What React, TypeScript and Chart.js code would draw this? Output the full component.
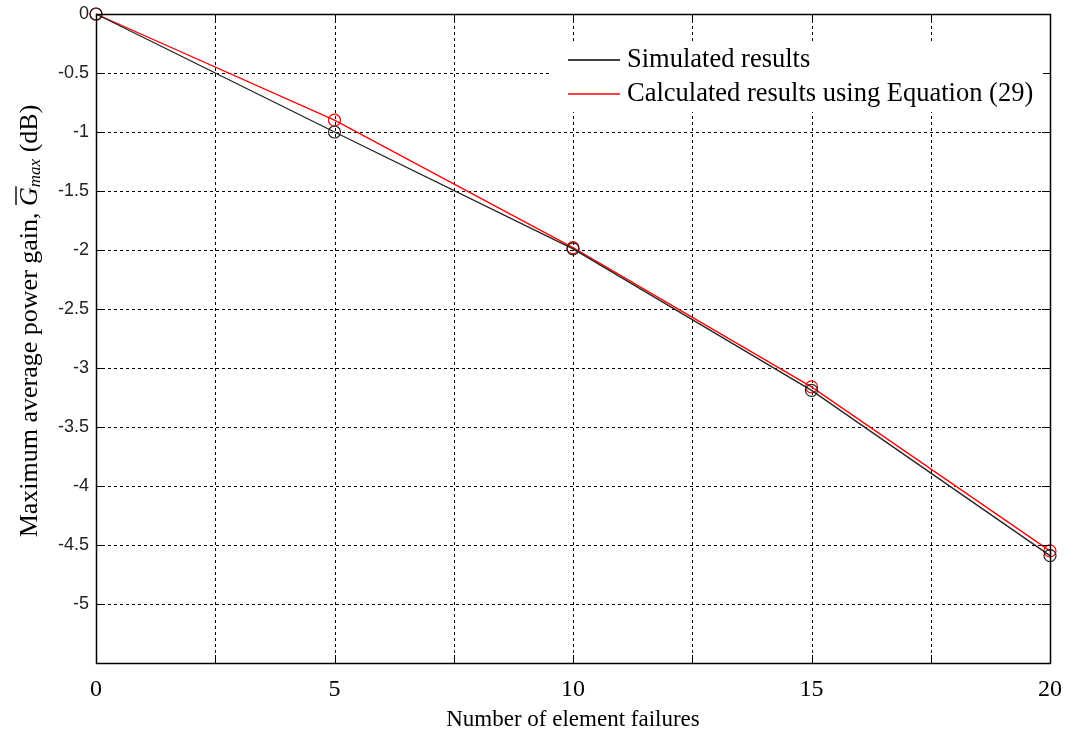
import React, { useEffect, useRef } from "react";
import { Chart, registerables } from "chart.js";

Chart.register(...registerables);

const failures = [0, 5, 10, 15, 20];
const simulated = [0, -1.0, -1.99, -3.19, -4.59];
const calculated = [0, -0.9, -1.98, -3.16, -4.55];
const seriesLabels = ["Simulated results", "Calculated results using Equation (29)"];
const xTitle = "Number of element failures";
const yTitleMain = "Maximum average power gain, ";
const yTitleSym = "G";
const yTitleSub = "max";
const yTitleUnit = " (dB)";

const SERIF = '"Liberation Serif", "Times New Roman", serif';
const SANS = '"Liberation Sans", Arial, sans-serif';

const decorPlugin = {
  id: "decor",
  beforeDatasetsDraw(chart: any) {
    const { ctx, chartArea: a, scales } = chart;
    const xs = scales.x, ys = scales.y;
    ctx.save();
    ctx.strokeStyle = "#000";
    ctx.lineWidth = 1;
    ctx.setLineDash([3, 3]);
    for (let v = 2.5; v < 20; v += 2.5) {
      const px = Math.round(xs.getPixelForValue(v)) + 0.5;
      ctx.beginPath();
      ctx.moveTo(px, a.top);
      ctx.lineTo(px, a.bottom);
      ctx.stroke();
    }
    for (let v = -0.5; v > -5.5; v -= 0.5) {
      const py = Math.round(ys.getPixelForValue(v)) + 0.5;
      ctx.beginPath();
      ctx.moveTo(a.left, py);
      ctx.lineTo(a.right, py);
      ctx.stroke();
    }
    ctx.restore();
  },
  afterDatasetsDraw(chart: any) {
    const { ctx, chartArea: a, scales } = chart;
    const xs = scales.x, ys = scales.y;
    ctx.save();
    ctx.setLineDash([]);
    ctx.strokeStyle = "#000";
    ctx.lineWidth = 1.5;
    ctx.strokeRect(Math.round(a.left) + 0.5, Math.round(a.top) + 0.5, Math.round(a.right - a.left), Math.round(a.bottom - a.top));
    ctx.lineWidth = 1;
    const tl = 8;
    for (let v = 2.5; v < 20; v += 2.5) {
      const px = Math.round(xs.getPixelForValue(v)) + 0.5;
      ctx.beginPath();
      ctx.moveTo(px, a.bottom); ctx.lineTo(px, a.bottom - tl);
      ctx.moveTo(px, a.top); ctx.lineTo(px, a.top + tl);
      ctx.stroke();
    }
    for (let v = -0.5; v > -5.5; v -= 0.5) {
      const py = Math.round(ys.getPixelForValue(v)) + 0.5;
      ctx.beginPath();
      ctx.moveTo(a.left, py); ctx.lineTo(a.left + tl, py);
      ctx.moveTo(a.right, py); ctx.lineTo(a.right - tl, py);
      ctx.stroke();
    }
    ctx.restore();
  },
  afterDraw(chart: any) {
    const { ctx, chartArea: a } = chart;
    ctx.save();
    // legend
    ctx.fillStyle = "#fff";
    ctx.fillRect(552, 42, 491, 70);
    ctx.font = `26.5px ${SERIF}`;
    ctx.textBaseline = "middle";
    ctx.textAlign = "left";
    const rows = [
      { y: 60, color: "#000", text: seriesLabels[0] },
      { y: 94, color: "#ff0000", text: seriesLabels[1] },
    ];
    for (const r of rows) {
      ctx.strokeStyle = r.color;
      ctx.lineWidth = 1.6;
      ctx.beginPath();
      ctx.moveTo(568, r.y);
      ctx.lineTo(620, r.y);
      ctx.stroke();
      ctx.fillStyle = "#000";
      ctx.fillText(r.text, 627, r.y);
    }
    // x title
    ctx.font = `23px ${SERIF}`;
    ctx.textAlign = "center";
    ctx.textBaseline = "middle";
    ctx.fillText(xTitle, (a.left + a.right) / 2, 720);
    // y title
    ctx.translate(30, 0);
    ctx.rotate(-Math.PI / 2);
    ctx.textBaseline = "middle";
    ctx.textAlign = "left";
    const fMain = `26px ${SERIF}`;
    const fSym = `italic 26px ${SERIF}`;
    const fSub = `italic 17px ${SERIF}`;
    ctx.font = fMain;
    const w1 = ctx.measureText(yTitleMain).width;
    const w4 = ctx.measureText(yTitleUnit).width;
    ctx.font = fSym;
    const w2 = ctx.measureText(yTitleSym).width;
    ctx.font = fSub;
    const w3 = ctx.measureText(yTitleSub).width;
    const total = w1 + w2 + w3 + w4;
    const center = -321;
    let x = center - total / 2;
    ctx.fillStyle = "#000";
    ctx.font = fMain;
    ctx.fillText(yTitleMain, x, 0);
    x += w1;
    ctx.font = fSym;
    ctx.fillText(yTitleSym, x, 0);
    ctx.strokeStyle = "#000";
    ctx.lineWidth = 1.4;
    ctx.beginPath();
    ctx.moveTo(x + 1, -14);
    ctx.lineTo(x + w2 + 1, -14);
    ctx.stroke();
    x += w2;
    ctx.font = fSub;
    ctx.fillText(yTitleSub, x, 6);
    x += w3;
    ctx.font = fMain;
    ctx.fillText(yTitleUnit, x, 0);
    ctx.restore();
  },
};

export default function App() {
  const ref = useRef<HTMLCanvasElement>(null);
  useEffect(() => {
    if (!ref.current) return;
    const chart = new Chart(ref.current, {
      type: "line",
      data: {
        datasets: [
          {
            label: seriesLabels[0],
            data: failures.map((f, i) => ({ x: f, y: simulated[i] })),
            borderColor: "#222",
            borderWidth: 1.3,
            pointRadius: 6,
            pointBorderWidth: 1.2,
            pointBackgroundColor: "rgba(0,0,0,0)",
            pointBorderColor: "#222",
            pointStyle: "circle",
            tension: 0,
          },
          {
            label: seriesLabels[1],
            data: failures.map((f, i) => ({ x: f, y: calculated[i] })),
            borderColor: "#ff0000",
            borderWidth: 1.3,
            pointRadius: 6,
            pointBorderWidth: 1.2,
            pointBackgroundColor: "rgba(0,0,0,0)",
            pointBorderColor: "#ff0000",
            pointStyle: "circle",
            tension: 0,
          },
        ],
      },
      options: {
        animation: false,
        responsive: false,
        maintainAspectRatio: false,
        clip: false as any,
        layout: { padding: { top: 14, right: 15, left: 0, bottom: 0 } },
        plugins: { legend: { display: false }, tooltip: { enabled: false }, title: { display: false } },
        scales: {
          x: {
            type: "linear",
            min: 0,
            max: 20,
            grid: { display: false, drawTicks: false },
            border: { display: false },
            afterFit: (s: any) => { s.height = 73; s.paddingLeft = 0; s.paddingRight = 0; },
            ticks: {
              stepSize: 2.5,
              autoSkip: false,
              maxRotation: 0,
              padding: 12,
              color: "#000",
              font: { family: SERIF, size: 24 },
              callback: (v: any) => (Number(v) % 5 === 0 ? String(v) : ""),
            },
          },
          y: {
            type: "linear",
            min: -5.5,
            max: 0,
            grid: { display: false, drawTicks: false },
            border: { display: false },
            afterFit: (s: any) => { s.width = 96; s.paddingTop = 0; s.paddingBottom = 0; },
            ticks: {
              stepSize: 0.5,
              autoSkip: false,
              padding: 7,
              color: "#222",
              font: { family: SANS, size: 18 },
              callback: (v: any) => (Math.abs(Number(v) + 5.5) < 1e-9 ? "" : String(v)),
            },
          },
        },
      },
      plugins: [decorPlugin],
    });
    return () => chart.destroy();
  }, []);
  return (
    <div style={{ position: "fixed", left: 0, top: 0, width: 1065, height: 736, background: "#fff" }}>
      <canvas ref={ref} width={1065} height={736} style={{ width: 1065, height: 736, display: "block" }} />
    </div>
  );
}
